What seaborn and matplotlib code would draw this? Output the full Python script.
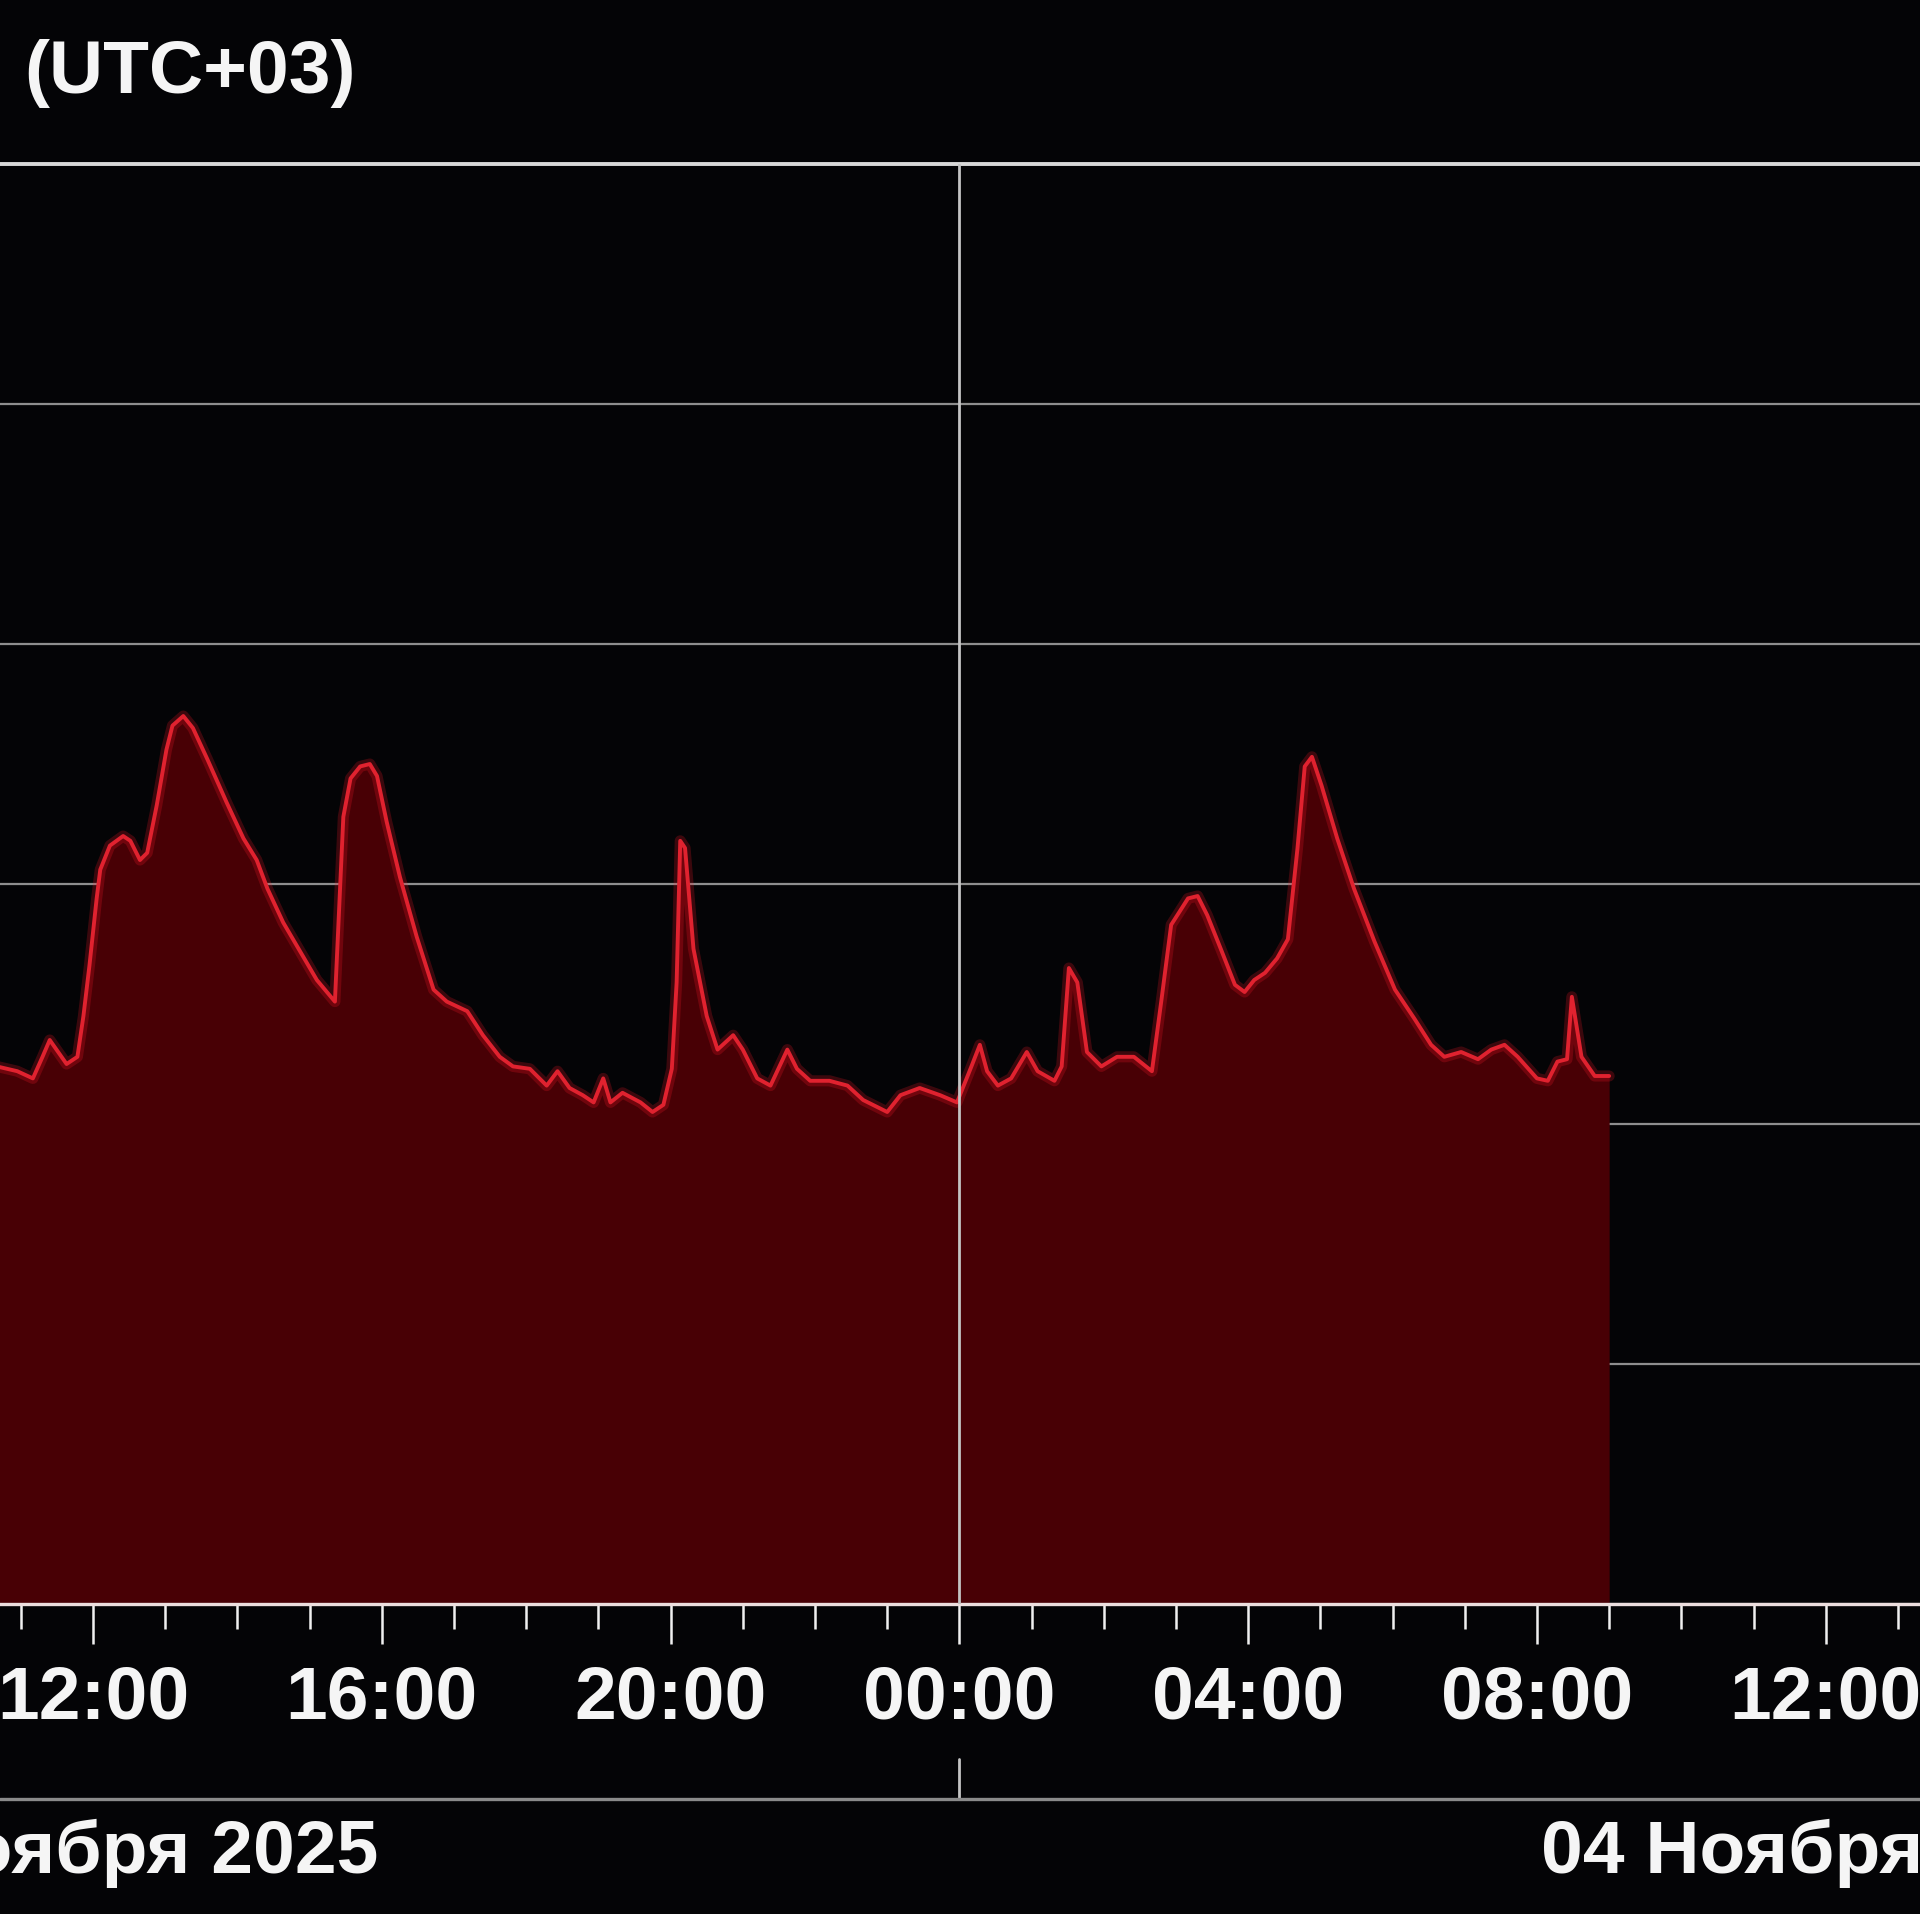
import pandas as pd
import matplotlib
matplotlib.use("Agg")
import matplotlib.pyplot as plt
import matplotlib.dates as mdates
import matplotlib.transforms as mtransforms
import matplotlib.patheffects as pe
from matplotlib.lines import Line2D
import seaborn as sns

# ========================
# DATA
# ========================
day1_times = [
    "10:40", "10:57", "11:10", "11:18", "11:24", "11:31", "11:38", "11:47",
    "11:52", "11:57", "12:03", "12:06", "12:14", "12:25", "12:31", "12:39",
    "12:45", "12:53", "13:01", "13:06", "13:15", "13:23", "13:35", "13:51",
    "14:05", "14:16", "14:25", "14:38", "14:52", "15:06", "15:21", "15:28",
    "15:34", "15:42", "15:50", "15:56", "16:04", "16:15", "16:29", "16:43",
    "16:54", "17:11", "17:24", "17:38", "17:49", "18:03", "18:17", "18:26",
    "18:36", "18:47", "18:56", "19:04", "19:10", "19:20", "19:35", "19:45",
    "19:54", "20:01", "20:05", "20:08", "20:12", "20:19", "20:30", "20:39",
    "20:52", "21:00", "21:12", "21:23", "21:37", "21:45", "21:56", "22:12",
    "22:27", "22:40", "23:00", "23:11", "23:27", "23:44", "23:58",
]
day1_values = [
    2.24, 2.22, 2.19, 2.28, 2.35, 2.30, 2.25, 2.28,
    2.45, 2.66, 2.94, 3.06, 3.16, 3.20, 3.18, 3.10,
    3.13, 3.33, 3.56, 3.66, 3.70, 3.65, 3.52, 3.34,
    3.19, 3.10, 2.98, 2.84, 2.72, 2.60, 2.51, 3.28,
    3.44, 3.49, 3.50, 3.45, 3.26, 3.03, 2.78, 2.56,
    2.51, 2.47, 2.37, 2.28, 2.24, 2.23, 2.16, 2.22,
    2.15, 2.12, 2.09, 2.19, 2.09, 2.13, 2.09, 2.05,
    2.08, 2.23, 2.59, 3.18, 3.15, 2.73, 2.45, 2.31,
    2.37, 2.31, 2.19, 2.16, 2.31, 2.23, 2.18, 2.18,
    2.16, 2.10, 2.05, 2.12, 2.15, 2.12, 2.09,
]
day2_times = [
    "00:10", "00:17", "00:23", "00:32", "00:43", "00:56", "01:05", "01:19",
    "01:25", "01:31", "01:38", "01:46", "01:58", "02:11", "02:25", "02:40",
    "02:48", "02:56", "03:10", "03:18", "03:26", "03:38", "03:49", "03:57",
    "04:05", "04:14", "04:24", "04:33", "04:41", "04:47", "04:53", "05:01",
    "05:14", "05:28", "05:45", "06:02", "06:18", "06:32", "06:43", "06:57",
    "07:11", "07:22", "07:33", "07:44", "08:00", "08:09", "08:17", "08:25",
    "08:29", "08:37", "08:48", "09:00",
]
day2_values = [
    2.24, 2.33, 2.22, 2.16, 2.19, 2.30, 2.22, 2.18,
    2.24, 2.65, 2.59, 2.30, 2.24, 2.28, 2.28, 2.22,
    2.52, 2.83, 2.94, 2.95, 2.87, 2.72, 2.58, 2.55,
    2.60, 2.63, 2.69, 2.77, 3.15, 3.49, 3.53, 3.41,
    3.19, 2.98, 2.76, 2.56, 2.44, 2.33, 2.28, 2.30,
    2.27, 2.31, 2.33, 2.28, 2.19, 2.18, 2.26, 2.27,
    2.53, 2.28, 2.20, 2.20,
]
date_labels = ["03 Ноября 2025", "04 Ноября 2025"]
tz_label = "(UTC+03)"

times = pd.to_datetime(["2025-11-03 " + t for t in day1_times] +
                       ["2025-11-04 " + t for t in day2_times])
values = day1_values + day2_values
df = pd.DataFrame({"time": times, "value": values})

midnight = pd.Timestamp("2025-11-04 00:00")
noons = [pd.Timestamp("2025-11-03 12:00"), pd.Timestamp("2025-11-04 12:00")]

# ========================
# STYLE
# ========================
BG = "#040406"
sns.set_theme(style="white")
plt.rcParams["font.family"] = ["Liberation Sans", "DejaVu Sans"]
plt.rcParams["font.weight"] = "bold"

fig = plt.figure(figsize=(19.2, 19.15), dpi=100, facecolor=BG)
ax = fig.add_axes([0, 0.1619, 1, 0.7519], facecolor=BG)

# ========================
# PLOT
# ========================
ax.fill_between(df["time"], 0, df["value"], color="#480005", lw=0, zorder=2)
sns.lineplot(data=df, x="time", y="value", ax=ax, color="#e0222f", lw=2.8,
             zorder=3, solid_joinstyle="round", solid_capstyle="round",
             path_effects=[pe.Stroke(linewidth=8, foreground="#ff1a2a", alpha=0.22),
                           pe.Normal()])
ax.axvline(midnight, color="#c4c4c4", lw=2.0, zorder=4)

ax.set_xlim(pd.Timestamp("2025-11-03 10:42:40"), pd.Timestamp("2025-11-04 13:18:20"))
ax.set_ylim(0, 6)
ax.set_yticks(range(0, 7))
ax.yaxis.grid(True, color="#8e8e8e", lw=1.6)
ax.xaxis.grid(False)
ax.set_axisbelow(True)
ax.set_xlabel("")
ax.set_ylabel("")

ax.xaxis.set_major_locator(mdates.HourLocator(byhour=range(0, 24, 4)))
ax.xaxis.set_minor_locator(mdates.HourLocator())
ax.xaxis.set_major_formatter(mdates.DateFormatter("%H:%M"))
ax.tick_params(axis="x", which="major", bottom=True, length=29, width=1.8,
               color="#f0f0f0", labelsize=54, labelcolor="#f5f5f5", pad=14)
ax.tick_params(axis="x", which="minor", bottom=True, length=18, width=1.8,
               color="#f0f0f0")
ax.tick_params(axis="y", left=False, length=0, labelleft=False)

for side in ["left", "right"]:
    ax.spines[side].set_visible(False)
ax.spines["top"].set_color("#d8d8d8")
ax.spines["top"].set_linewidth(2.8)
ax.spines["bottom"].set_color("#ecdede")
ax.spines["bottom"].set_linewidth(2.4)

# ========================
# DATE BAR & LABELS
# ========================
fig.add_artist(Line2D([0, 1], [0.0601, 0.0601], transform=fig.transFigure,
                      color="#8a8a8a", lw=2.4))
trans = mtransforms.blended_transform_factory(ax.transData, fig.transFigure)
ax.add_line(Line2D([mdates.date2num(midnight)] * 2, [0.0809, 0.0601],
                   transform=trans, color="#c4c4c4", lw=2.0, clip_on=False))
for noon, lbl in zip(noons, date_labels):
    ax.text(noon, 0.0219, lbl, transform=trans, ha="center", va="baseline",
            fontsize=54, color="#f5f5f5", clip_on=False)

fig.text(24 / 1920, 1 - 73 / 1915, tz_label, ha="left", va="center",
         fontsize=54, color="#f5f5f5")

fig.savefig("out.png", dpi=100, facecolor=fig.get_facecolor())
plt.close(fig)
